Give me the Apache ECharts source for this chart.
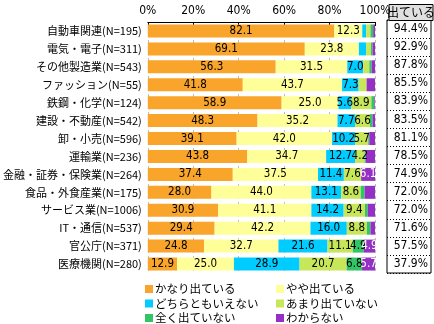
<!DOCTYPE html>
<html>
<head>
<meta charset="utf-8">
<script src="https://cdn.jsdelivr.net/npm/echarts@6/dist/echarts.min.js"></script>
<style>html,body{margin:0;padding:0;background:#fff;}#c{width:434px;height:324px;}</style>
</head>
<body>
<div id="c"></div>
<script>
var categories = ['自動車関連(N=195)','電気・電子(N=311)','その他製造業(N=543)','ファッション(N=55)','鉄鋼・化学(N=124)','建設・不動産(N=542)','卸・小売(N=596)','運輸業(N=236)','金融・証券・保険業(N=264)','食品・外食産業(N=175)','サービス業(N=1006)','IT・通信(N=537)','官公庁(N=371)','医療機関(N=280)'];
var seriesNames = ['かなり出ている','やや出ている','どちらともいえない','あまり出ていない','全く出ていない','わからない'];
var kanari   = [82.1,69.1,56.3,41.8,58.9,48.3,39.1,43.8,37.4,28.0,30.9,29.4,24.8,12.9];
var yaya     = [12.3,23.8,31.5,43.7,25.0,35.2,42.0,34.7,37.5,44.0,41.1,42.2,32.7,25.0];
var dochira  = [1.7,3.2,7.0,7.3,5.6,7.7,10.2,12.7,11.4,13.1,14.2,16.0,21.6,28.9];
var amari    = [1.9,2.1,2.7,3.5,8.9,6.6,5.7,4.2,7.6,8.6,9.4,8.8,11.1,20.7];
var mattaku  = [1.2,0.7,1.0,0.0,1.3,1.1,0.5,0.5,0.0,1.7,1.2,1.6,4.9,6.8];
var wakaranai= [0.8,1.1,1.5,3.7,0.3,1.1,2.5,4.1,6.1,4.6,3.2,2.0,4.9,5.7];
var tableHeader = '出ている';
var totals = ['94.4%','92.9%','87.8%','85.5%','83.9%','83.5%','81.1%','78.5%','74.9%','72.0%','72.0%','71.6%','57.5%','37.9%'];
var xTicks = [0,20,40,60,80,100];

var allValues = [kanari,yaya,dochira,amari,mattaku,wakaranai];
var colors = ['#F9A52B','#FFFF99','#00CCFF','#C8E65A','#33C466','#9530C4'];
var labelColors = ['#000','#000','#000','#000','#000','#fff'];
var minLabel = [4,4,4,4,4,4.8];
var numFont = "'Liberation Sans Narrow','DejaVu Sans Condensed','Liberation Sans',sans-serif";
var jpFont = "'Liberation Sans Narrow','Noto Sans CJK JP',sans-serif";

var series = seriesNames.map(function(name,i){
  return {
    name: name, type: 'bar', stack: 'total', xAxisIndex: 0, yAxisIndex: 0,
    barWidth: 13,
    itemStyle: {color: colors[i]},
    label: {position: 'inside', color: labelColors[i], fontSize: 11.5, fontFamily: numFont,
      formatter: function(p){ return p.value.toFixed(1); }},
    data: allValues[i].map(function(v){ return {value: v, label: {show: v >= minLabel[i]}}; })
  };
});
series.push({type:'bar', xAxisIndex:1, yAxisIndex:1, data: totals.map(function(){return 0;}), silent:true});

var chart = echarts.init(document.getElementById('c'), null, {renderer:'canvas'});
chart.setOption({
  animation: false,
  color: colors,
  grid: [
    {left: 133, right: 59, top: 22, bottom: 51, containLabel: false},
    {left: 387, right: 3, top: 20, bottom: 51, show: true, borderColor: '#000', borderWidth: 1, backgroundColor: '#fff'}
  ],
  xAxis: [
    {type: 'value', gridIndex: 0, position: 'top', min: xTicks[0], max: xTicks[xTicks.length-1], interval: 20,
     axisLine: {show: true, lineStyle: {color: '#000', width: 1}},
     axisTick: {show: true, inside: true, length: 4, lineStyle: {color: '#000'}},
     axisLabel: {formatter: '{value}%', color: '#000', fontSize: 12, fontFamily: numFont, margin: 5},
     splitLine: {show: true, lineStyle: {color: '#BBBBBB', type: [3,3]}}},
    {type: 'value', gridIndex: 1, show: false, min: 0, max: 1}
  ],
  yAxis: [
    {type: 'category', gridIndex: 0, data: categories, inverse: true,
     axisLine: {show: false}, axisTick: {show: false},
     axisLabel: {color: '#000', fontSize: 11, fontFamily: jpFont, margin: 6}},
    {type: 'category', gridIndex: 1, data: categories, inverse: true, position: 'right',
     axisLine: {show: false}, axisTick: {show: false},
     axisLabel: {inside: true, margin: 3, color: '#000', fontSize: 12, fontFamily: numFont,
       formatter: function(v, idx){ return totals[idx]; }},
     splitLine: {show: true, lineStyle: {color: '#000', type: [1,2], width: 1}}}
  ],
  legend: [
    {orient: 'vertical', left: 145, top: 283, height: 60, padding: 0, icon: 'rect', itemWidth: 8, itemHeight: 8, itemGap: 2.5,
     data: [seriesNames[0], seriesNames[2], seriesNames[4]],
     textStyle: {fontSize: 11.5, lineHeight: 12, fontFamily: jpFont, color: '#000', padding: [0,0,0,-3]}},
    {orient: 'vertical', left: 276, top: 283, height: 60, padding: 0, icon: 'rect', itemWidth: 8, itemHeight: 8, itemGap: 2.5,
     data: [seriesNames[1], seriesNames[3], seriesNames[5]],
     textStyle: {fontSize: 11.5, lineHeight: 12, fontFamily: jpFont, color: '#000', padding: [0,0,0,-3]}}
  ],
  graphic: [
    {type: 'group', left: 387, top: 4, z: 100, children: [
      {type: 'rect', shape: {x: 0, y: 0, width: 44, height: 16}, style: {fill: '#E0E0E0', stroke: '#000', lineWidth: 1}},
      {type: 'text', x: 22, y: 8, style: {text: tableHeader, fill: '#000', fontSize: 12, fontFamily: jpFont, align: 'center', verticalAlign: 'middle'}}
    ]}
  ],
  series: series
});
</script>
</body>
</html>
